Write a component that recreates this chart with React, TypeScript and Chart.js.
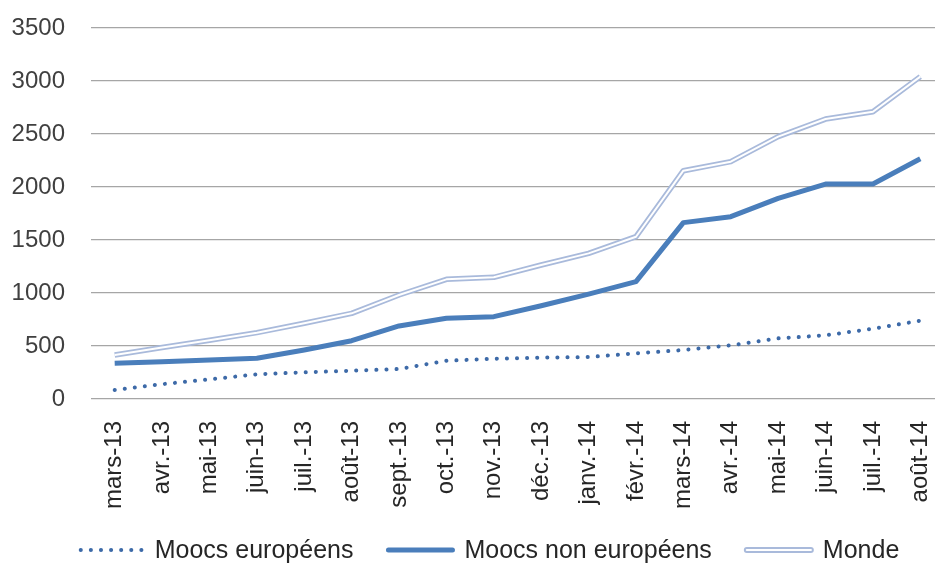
import React, { useEffect, useRef } from "react";
import { Chart, registerables } from "chart.js";

Chart.register(...registerables);

const categories = [
  "mars-13", "avr.-13", "mai-13", "juin-13", "juil.-13", "août-13", "sept.-13", "oct.-13", "nov.-13",
  "déc.-13", "janv.-14", "févr.-14", "mars-14", "avr.-14", "mai-14", "juin-14", "juil.-14", "août-14",
];
const europeens = [85, 140, 185, 233, 252, 267, 283, 361, 380, 390, 396, 431, 462, 506, 572, 601, 663, 739];
const nonEuropeens = [337, 352, 368, 384, 462, 550, 689, 761, 777, 880, 990, 1107, 1664, 1720, 1893, 2028, 2028, 2267];
const monde = [415, 485, 555, 626, 714, 808, 981, 1129, 1148, 1264, 1374, 1531, 2154, 2239, 2475, 2641, 2710, 3041];
const seriesNames = ["Moocs européens", "Moocs non européens", "Monde"];
const yTicks = [0, 500, 1000, 1500, 2000, 2500, 3000, 3500];

const FONT = '"Liberation Sans", Arial, sans-serif';
const C_EU = "#3d6aa8";
const C_NEU = "#4a7ebb";
const C_MONDE = "#a9badb";

const legendPlugin = {
  id: "customLegend",
  afterDraw(chart: any) {
    const ctx = chart.ctx as CanvasRenderingContext2D;
    ctx.save();
    ctx.font = `25px ${FONT}`;
    const sym = 68;
    const gap = 10;
    const itemGap = 33;
    const widths = seriesNames.map((n) => ctx.measureText(n).width);
    const total = widths.reduce((a, b) => a + b, 0) + 3 * (sym + gap) + 2 * itemGap;
    let x = 488 - total / 2;
    const y = 550;
    seriesNames.forEach((name, i) => {
      ctx.save();
      ctx.beginPath();
      if (i === 0) {
        ctx.strokeStyle = C_EU;
        ctx.lineWidth = 4;
        ctx.lineCap = "round";
        ctx.setLineDash([0.1, 10]);
        ctx.moveTo(x + 4, y);
        ctx.lineTo(x + sym, y);
        ctx.stroke();
      } else if (i === 1) {
        ctx.strokeStyle = C_NEU;
        ctx.lineWidth = 5;
        ctx.lineCap = "round";
        ctx.moveTo(x + 2, y);
        ctx.lineTo(x + sym - 2, y);
        ctx.stroke();
      } else {
        ctx.strokeStyle = C_MONDE;
        ctx.lineWidth = 6;
        ctx.lineCap = "round";
        ctx.moveTo(x + 2, y);
        ctx.lineTo(x + sym - 2, y);
        ctx.stroke();
        ctx.beginPath();
        ctx.strokeStyle = "#ffffff";
        ctx.lineWidth = 2.2;
        ctx.moveTo(x + 2, y);
        ctx.lineTo(x + sym - 2, y);
        ctx.stroke();
      }
      ctx.restore();
      ctx.fillStyle = "#262626";
      ctx.textBaseline = "middle";
      ctx.textAlign = "left";
      ctx.fillText(name, x + sym + gap, y + 1);
      x += sym + gap + widths[i] + itemGap;
    });
    ctx.restore();
  },
};

export default function App() {
  const ref = useRef<HTMLCanvasElement | null>(null);

  useEffect(() => {
    document.body.style.margin = "0";
    document.body.style.overflow = "hidden";
    const canvas = ref.current;
    if (!canvas) return;
    const chart = new Chart(canvas, {
      type: "line",
      data: {
        labels: categories,
        datasets: [
          {
            label: seriesNames[0],
            data: europeens,
            borderColor: C_EU,
            borderWidth: 4,
            borderDash: [0.1, 10],
            borderCapStyle: "round",
            pointRadius: 0,
            tension: 0,
            order: 1,
          },
          {
            label: seriesNames[1],
            data: nonEuropeens,
            borderColor: C_NEU,
            borderWidth: 5,
            borderJoinStyle: "round",
            pointRadius: 0,
            tension: 0,
            order: 2,
          },
          {
            label: seriesNames[2],
            data: monde,
            borderColor: C_MONDE,
            borderWidth: 5.5,
            borderJoinStyle: "round",
            pointRadius: 0,
            tension: 0,
            order: 3,
          },
          {
            label: "Monde (inner)",
            data: monde,
            borderColor: "#ffffff",
            borderWidth: 2,
            borderJoinStyle: "round",
            pointRadius: 0,
            tension: 0,
            order: 0,
          },
        ],
      },
      options: {
        animation: false,
        responsive: true,
        maintainAspectRatio: false,
        layout: { padding: { top: 28, left: 0, right: 16, bottom: 34 } },
        plugins: {
          legend: { display: false },
          tooltip: { enabled: false },
        },
        scales: {
          x: {
            offset: true,
            grid: { display: false, drawTicks: false },
            border: { display: false },
            ticks: {
              autoSkip: false,
              minRotation: 90,
              maxRotation: 90,
              padding: 22,
              color: "#262626",
              font: { family: FONT, size: 24 },
            },
            afterFit: (scale: any) => {
              scale.height = 130;
              scale.paddingLeft = 0;
              scale.paddingRight = 0;
              scale.paddingTop = 0;
              scale.paddingBottom = 0;
            },
          },
          y: {
            min: 0,
            max: 3500,
            afterBuildTicks: (scale: any) => {
              scale.ticks = yTicks.map((v) => ({ value: v }));
            },
            grid: { color: "#a6a6a6", lineWidth: 1.2, drawTicks: false },
            border: { display: false },
            ticks: {
              padding: 26,
              color: "#404040",
              font: { family: FONT, size: 24 },
              callback: (v: any) => String(v),
            },
            afterFit: (scale: any) => {
              scale.width = 91;
              scale.paddingLeft = 0;
              scale.paddingRight = 0;
              scale.paddingTop = 0;
              scale.paddingBottom = 0;
            },
          },
        },
      },
      plugins: [legendPlugin],
    } as any);
    return () => chart.destroy();
  }, []);

  return (
    <div style={{ position: "absolute", left: 0, top: 0, width: 935, height: 563, overflow: "hidden" }}>
      <div style={{ position: "relative", width: 960, height: 563 }}>
        <canvas ref={ref} />
      </div>
    </div>
  );
}
